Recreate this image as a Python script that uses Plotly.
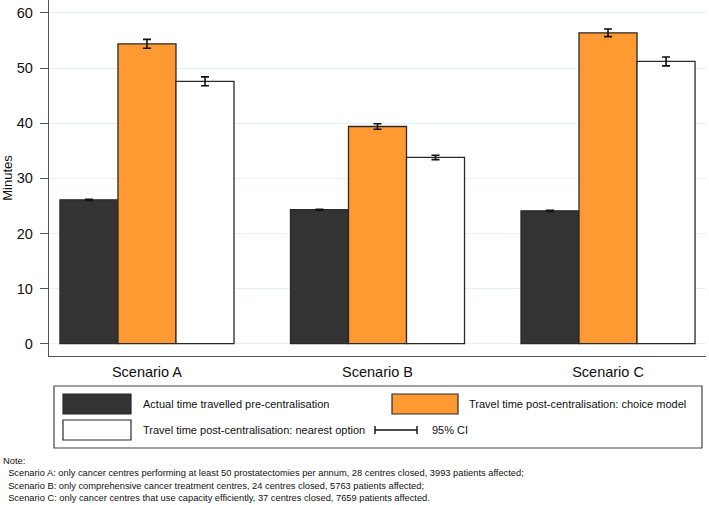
import plotly.graph_objects as go

categories = ["Scenario A", "Scenario B", "Scenario C"]
series_names = [
    "Actual time travelled pre-centralisation",
    "Travel time post-centralisation: choice model",
    "Travel time post-centralisation: nearest option",
]
actual = [26.1, 24.3, 24.1]
actual_ci = [0.1, 0.1, 0.1]
choice = [54.4, 39.4, 56.4]
choice_ci = [0.8, 0.5, 0.7]
nearest = [47.6, 33.8, 51.2]
nearest_ci = [0.8, 0.4, 0.8]
y_ticks = [0, 10, 20, 30, 40, 50, 60]
note_lines = [
    "Note:",
    "  Scenario A: only cancer centres performing at least 50 prostatectomies per annum, 28 centres closed, 3993 patients affected;",
    "  Scenario B: only comprehensive cancer treatment centres, 24 centres closed, 5763 patients affected;",
    "  Scenario C: only cancer centres that use capacity efficiently, 37 centres closed, 7659 patients affected.",
]

DARK = "#333333"
ORANGE = "#FF9A33"
WHITE = "#FFFFFF"
EDGE = "#2a2a2a"
FONT = "Liberation Sans, Arial, sans-serif"

W, H = 709, 505
L, R, T, B = 49, 3, 0, 149
PW, PH = W - L - R, H - T - B


def px(x):
    return (x - L) / PW


def py(y):
    return (H - B - y) / PH


fig = go.Figure()
for name, vals, ci, col in [
    (series_names[0], actual, actual_ci, DARK),
    (series_names[1], choice, choice_ci, ORANGE),
    (series_names[2], nearest, nearest_ci, WHITE),
]:
    fig.add_trace(go.Bar(
        x=categories, y=vals, name=name,
        marker=dict(color=col, line=dict(color=EDGE, width=1.3)),
        error_y=dict(type="data", array=ci, visible=True, color="#111111", thickness=1.6, width=4),
        showlegend=False,
    ))

fig.update_layout(
    width=W, height=H,
    margin=dict(l=L, r=R, t=T, b=B, pad=0),
    paper_bgcolor="white", plot_bgcolor="white",
    barmode="group", bargap=0.245, bargroupgap=0,
    font=dict(family=FONT, color="#111111"),
    xaxis=dict(
        range=[-0.425, 2.425], showline=True, linecolor="#555555", linewidth=1.3,
        ticks="", tickfont=dict(size=14.5, color="#111111"), showgrid=False,
        ticklabelstandoff=2,
    ),
    yaxis=dict(
        range=[-2.23, 62.35], tickvals=y_ticks, showline=True, linecolor="#555555", linewidth=1.3,
        ticks="outside", ticklen=8, tickcolor="#555555", tickwidth=1.2,
        tickfont=dict(size=14.5, color="#111111"), showgrid=True, gridcolor="#E8F0F4", gridwidth=1.3,
        zeroline=False, ticklabelstandoff=4,
        title=dict(text="Minutes", font=dict(size=13), standoff=8),
    ),
)

shapes = []
ann = []
# legend box
shapes.append(dict(type="rect", xref="paper", yref="paper", x0=px(54), x1=px(702), y0=py(386), y1=py(448),
                   line=dict(color="#444444", width=1.2), fillcolor="white"))
# swatches
shapes.append(dict(type="rect", xref="paper", yref="paper", x0=px(63), x1=px(131), y0=py(394), y1=py(414),
                   line=dict(color=EDGE, width=1.2), fillcolor=DARK))
shapes.append(dict(type="rect", xref="paper", yref="paper", x0=px(63), x1=px(131), y0=py(420), y1=py(440),
                   line=dict(color=EDGE, width=1.2), fillcolor=WHITE))
shapes.append(dict(type="rect", xref="paper", yref="paper", x0=px(392), x1=px(458), y0=py(394), y1=py(414),
                   line=dict(color=EDGE, width=1.2), fillcolor=ORANGE))
# CI key
ci_x0, ci_x1 = 375, 417
shapes.append(dict(type="line", xref="paper", yref="paper", x0=px(ci_x0), x1=px(ci_x1), y0=py(430), y1=py(430),
                   line=dict(color="#111111", width=1.4)))
for xx in (ci_x0, ci_x1):
    shapes.append(dict(type="line", xref="paper", yref="paper", x0=px(xx), x1=px(xx), y0=py(426), y1=py(434),
                       line=dict(color="#111111", width=1.4)))

def label(text, x, y, size=11):
    ann.append(dict(text=text, xref="paper", yref="paper", x=px(x), y=py(y), xanchor="left", yanchor="middle",
                    showarrow=False, font=dict(size=size, color="#111111", family=FONT)))

label(series_names[0], 141, 404)
label(series_names[1], 467, 404)
label(series_names[2], 141, 430)
label("95% CI", 430, 430)

for i, line in enumerate(note_lines):
    ann.append(dict(text=line.replace("  ", "&nbsp;&nbsp;"), xref="paper", yref="paper", x=px(1), y=py(461 + 12.4 * i),
                    xanchor="left", yanchor="middle", showarrow=False,
                    font=dict(size=9.3, color="#111111", family=FONT)))

fig.update_layout(shapes=shapes, annotations=ann)
fig.write_html(
    "out.html",
    config={"displayModeBar": False},
    post_script="document.body.style.margin='0';document.documentElement.style.overflow='hidden';",
)
